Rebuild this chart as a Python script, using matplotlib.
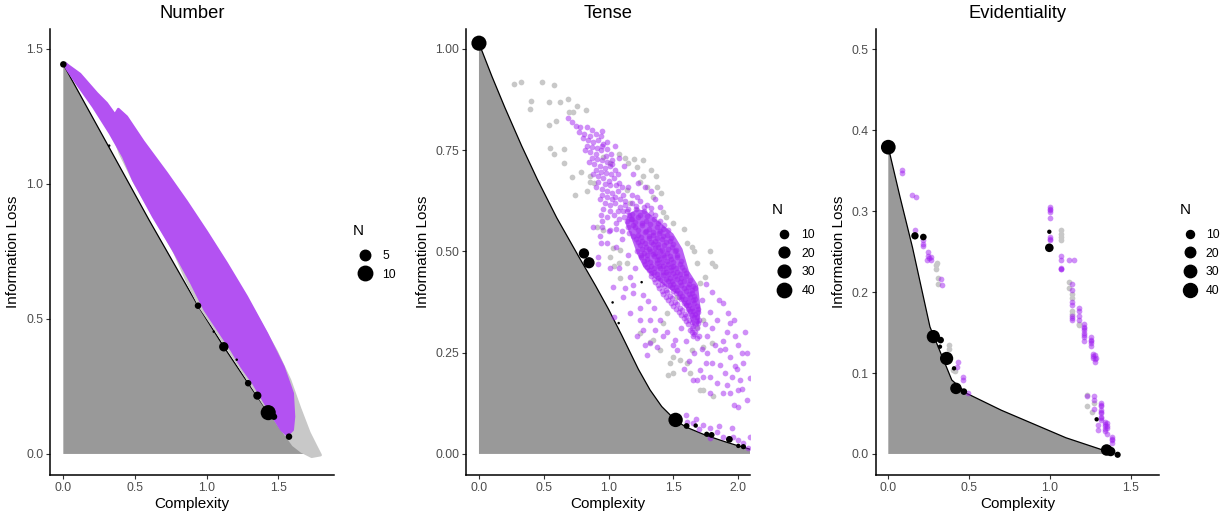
import numpy as np
import matplotlib
matplotlib.use("Agg")
from matplotlib import pyplot as plt
from matplotlib.lines import Line2D
from matplotlib.ticker import FormatStrFormatter

plt.rcParams['font.family'] = ['Liberation Sans', 'DejaVu Sans']

PURPLE = '#A020F0'
GREY_PT = '#C8C8C8'
FILL = '#999999'

# ---------------- Number ----------------
num_front_x = [0.0, 0.32, 0.6, 0.94, 1.12, 1.29, 1.43, 1.575, 1.63]
num_front_y = [1.443, 1.135, 0.865, 0.549, 0.397, 0.262, 0.153, 0.064, 0.033]
num_fill_end = 1.71

# dense cloud of simulated systems, drawn as its outline
num_purple_x = [0.012, 0.116, 0.233, 0.302, 0.360, 0.384, 0.442, 0.558, 0.721, 0.860, 1.0, 1.140,
                1.279, 1.419, 1.535, 1.600, 1.609, 1.600, 1.563,
                1.523, 1.465, 1.395, 1.326, 1.244, 1.174, 1.081, 0.988, 0.895, 0.767, 0.628,
                0.488, 0.419, 0.326, 0.209, 0.093, 0.023]
num_purple_y = [1.447, 1.407, 1.336, 1.299, 1.256, 1.277, 1.249, 1.157, 1.040, 0.935, 0.823, 0.706,
                0.583, 0.447, 0.323, 0.225, 0.138, 0.089, 0.070,
                0.089, 0.138, 0.200, 0.262, 0.323, 0.385, 0.459, 0.533, 0.632, 0.756, 0.879,
                1.015, 1.101, 1.188, 1.286, 1.373, 1.428]
num_grey_x = [0.012, 0.256, 0.360, 0.535, 0.721, 0.953, 1.186, 1.326, 1.488, 1.581, 1.651, 1.716,
              1.767, 1.795, 1.733, 1.663, 1.605,
              1.512, 1.395, 1.267, 1.163, 1.047, 0.953, 0.860, 0.779, 0.651, 0.500, 0.395,
              0.326, 0.209, 0.070]
num_grey_y = [1.449, 1.311, 1.256, 1.165, 1.033, 0.854, 0.657, 0.533, 0.379, 0.274, 0.169, 0.079,
              0.025, -0.004, -0.010, 0.009, 0.033,
              0.101, 0.188, 0.293, 0.379, 0.472, 0.546, 0.644, 0.743, 0.867, 1.002, 1.114,
              1.219, 1.311, 1.404]

num_lang_x = [0.0, 0.32, 0.94, 1.05, 1.12, 1.21, 1.29, 1.354, 1.43, 1.47, 1.575]
num_lang_y = [1.443, 1.142, 0.549, 0.453, 0.397, 0.349, 0.262, 0.216, 0.153, 0.138, 0.064]
num_lang_n = [2, 1, 2, 1, 4, 1, 2, 3, 11, 2, 2]

# ---------------- Tense ----------------
tense_front_x = [0.0, 0.1, 0.2, 0.33, 0.45, 0.6, 0.77, 0.9, 1.0, 1.1, 1.23, 1.32, 1.41, 1.52, 1.6,
                 1.75, 1.9, 2.0, 2.1]
tense_front_y = [1.014, 0.932, 0.855, 0.76, 0.678, 0.583, 0.487, 0.415, 0.357, 0.294, 0.209, 0.158, 0.117,
                 0.082, 0.066, 0.046, 0.030, 0.020, 0.011]

# outline of the saturated core of the cloud
tense_core_x = [1.16, 1.22, 1.28, 1.37, 1.49, 1.56, 1.61, 1.68, 1.70, 1.685, 1.66, 1.61, 1.53, 1.45,
                1.35, 1.28, 1.23, 1.18, 1.14]
tense_core_y = [0.590, 0.600, 0.598, 0.574, 0.542, 0.505, 0.450, 0.415, 0.356, 0.318, 0.318, 0.360,
                0.398, 0.415, 0.440, 0.462, 0.495, 0.540, 0.570]

tense_grey = [
    (0.273, 0.914), (0.324, 0.918), (0.489, 0.919), (0.581, 0.910), (0.401, 0.872), (0.394, 0.852),
    (0.543, 0.869), (0.628, 0.868), (0.687, 0.876), (0.697, 0.845), (0.728, 0.845), (0.826, 0.848),
    (0.754, 0.858), (0.540, 0.811), (0.592, 0.821), (0.548, 0.755), (0.579, 0.741), (0.658, 0.753),
    (0.658, 0.718), (0.715, 0.683), (0.787, 0.695), (0.738, 0.638), (0.831, 0.649), (0.856, 0.672),
    (0.887, 0.668), (1.083, 0.741), (1.127, 0.730), (1.196, 0.728), (1.268, 0.726), (1.152, 0.718),
    (1.217, 0.709), (1.325, 0.701), (1.366, 0.685), (1.268, 0.687), (1.376, 0.660), (1.242, 0.672),
    (1.402, 0.644), (1.422, 0.598), (1.443, 0.586), (1.500, 0.570), (1.582, 0.555), (1.602, 0.520),
    (1.641, 0.512), (1.659, 0.502), (1.680, 0.471), (1.782, 0.500), (1.795, 0.471), (1.821, 0.463),
    (1.744, 0.438), (1.705, 0.421), (1.037, 0.508), (1.088, 0.504), (1.011, 0.487), (1.042, 0.463),
    (1.083, 0.471), (1.088, 0.434), (1.139, 0.471), (1.422, 0.454), (1.474, 0.421), (1.525, 0.388),
    (1.448, 0.347), (1.422, 0.323), (1.319, 0.277), (1.397, 0.257), (1.500, 0.240), (1.551, 0.232),
    (1.602, 0.224), (1.461, 0.195), (1.628, 0.199), (1.705, 0.158), (1.731, 0.158), (1.808, 0.142),
    (1.680, 0.314), (1.731, 0.331), (1.731, 0.265), (1.795, 0.273), (1.641, 0.257), (1.139, 0.652),
    (1.294, 0.660), (1.345, 0.635), (0.908, 0.561), (0.959, 0.553), (1.268, 0.528), (1.319, 0.487),
    (0.959, 0.734), (1.011, 0.718), (0.856, 0.685), (1.165, 0.619), (1.217, 0.602), (1.525, 0.512),
    (1.564, 0.479), (1.242, 0.298), (1.345, 0.282), (1.474, 0.224), (1.500, 0.199),
]

tense_purple = [
    # upper arm
    (0.69, 0.829), (0.75, 0.81), (0.78, 0.808), (0.83, 0.806), (0.87, 0.80), (0.95, 0.798),
    (0.80, 0.78), (0.84, 0.775), (0.88, 0.77), (0.92, 0.775), (0.96, 0.765), (0.99, 0.77),
    (0.82, 0.75), (0.86, 0.745), (0.90, 0.74), (0.94, 0.75), (0.98, 0.735), (1.02, 0.74),
    (0.85, 0.72), (0.89, 0.715), (0.93, 0.71), (0.97, 0.705), (1.01, 0.71), (1.05, 0.70),
    (0.88, 0.69), (0.92, 0.685), (0.96, 0.68), (1.00, 0.675), (1.04, 0.68), (1.08, 0.67),
    (0.90, 0.66), (0.95, 0.655), (0.99, 0.65), (1.03, 0.645), (1.07, 0.65), (1.11, 0.64),
    (0.93, 0.63), (0.97, 0.62), (1.01, 0.615), (1.05, 0.62), (1.09, 0.61), (1.13, 0.615),
    (0.94, 0.59), (0.99, 0.585), (1.04, 0.59), (1.08, 0.58), (1.12, 0.585), (1.16, 0.59),
    (0.95, 0.56), (1.00, 0.55), (1.06, 0.555), (1.10, 0.55), (1.15, 0.56), (1.19, 0.565),
    (0.72, 0.82), (0.77, 0.795), (0.81, 0.79), (0.86, 0.785), (0.90, 0.79), (0.94, 0.785),
    (0.83, 0.76), (0.87, 0.757), (0.91, 0.755), (0.95, 0.76), (0.99, 0.752), (1.03, 0.725),
    (0.87, 0.73), (0.91, 0.728), (0.95, 0.725), (0.99, 0.72), (1.03, 0.715), (1.07, 0.69),
    (0.90, 0.70), (0.94, 0.697), (0.98, 0.693), (1.02, 0.69), (1.06, 0.665), (1.10, 0.66),
    (0.92, 0.672), (0.97, 0.667), (1.01, 0.663), (1.05, 0.635), (1.09, 0.63), (1.13, 0.625),
    (0.95, 0.64), (0.99, 0.635), (1.03, 0.63), (1.07, 0.60), (1.11, 0.60), (1.15, 0.605),
    (0.96, 0.605), (1.01, 0.60), (1.06, 0.57), (1.14, 0.575), (1.18, 0.58),
    (1.36, 0.63), (1.40, 0.61), (1.33, 0.65), (1.28, 0.66), (1.23, 0.67), (1.19, 0.69),
    (1.12, 0.71), (1.08, 0.73), (1.05, 0.76), (1.15, 0.66), (1.18, 0.64), (1.22, 0.635),
    # core
    (1.18, 0.62), (1.24, 0.625), (1.30, 0.615),
    (1.14, 0.60), (1.21, 0.605), (1.27, 0.60), (1.33, 0.595),
    (1.17, 0.58), (1.23, 0.585), (1.29, 0.575), (1.35, 0.58), (1.40, 0.575),
    (1.20, 0.56), (1.26, 0.565), (1.31, 0.555), (1.37, 0.56), (1.42, 0.555),
    (1.16, 0.545), (1.23, 0.54), (1.28, 0.548), (1.34, 0.54), (1.39, 0.545), (1.45, 0.54),
    (1.21, 0.53), (1.26, 0.525), (1.31, 0.532), (1.36, 0.525), (1.41, 0.53), (1.47, 0.525),
    (1.24, 0.515), (1.29, 0.51), (1.34, 0.518), (1.38, 0.51), (1.43, 0.515), (1.49, 0.51),
    (1.22, 0.50), (1.27, 0.495), (1.32, 0.502), (1.36, 0.495), (1.40, 0.50), (1.45, 0.495), (1.51, 0.50),
    (1.25, 0.485), (1.30, 0.48), (1.35, 0.488), (1.39, 0.48), (1.43, 0.485), (1.48, 0.48), (1.53, 0.485),
    (1.28, 0.47), (1.33, 0.465), (1.37, 0.472), (1.42, 0.465), (1.46, 0.47), (1.50, 0.465), (1.55, 0.47),
    (1.31, 0.455), (1.35, 0.45), (1.40, 0.458), (1.44, 0.45), (1.48, 0.455), (1.53, 0.45), (1.58, 0.455),
    (1.33, 0.44), (1.38, 0.435), (1.42, 0.442), (1.47, 0.435), (1.51, 0.44), (1.56, 0.435), (1.60, 0.44),
    (1.36, 0.425), (1.41, 0.42), (1.46, 0.428), (1.50, 0.42), (1.55, 0.425), (1.62, 0.42),
    (1.39, 0.41), (1.44, 0.405), (1.49, 0.412), (1.53, 0.405), (1.58, 0.41), (1.64, 0.405),
    (1.42, 0.395), (1.47, 0.39), (1.52, 0.398), (1.57, 0.39), (1.62, 0.395), (1.66, 0.39),
    (1.46, 0.38), (1.51, 0.375), (1.56, 0.382), (1.61, 0.375), (1.65, 0.38),
    (1.50, 0.365), (1.55, 0.36), (1.60, 0.368), (1.64, 0.36), (1.68, 0.365),
    (1.54, 0.35), (1.59, 0.345), (1.63, 0.352), (1.67, 0.345),
    (1.58, 0.335), (1.62, 0.33), (1.66, 0.338), (1.70, 0.33),
    (1.61, 0.32), (1.65, 0.315), (1.69, 0.322),
    (1.63, 0.305), (1.67, 0.30), (1.65, 0.29), (1.68, 0.285),
    (1.21, 0.612), (1.27, 0.61), (1.33, 0.608),
    (1.18, 0.592), (1.24, 0.59), (1.30, 0.588), (1.36, 0.59),
    (1.20, 0.572), (1.26, 0.57), (1.32, 0.568), (1.38, 0.57), (1.43, 0.565),
    (1.23, 0.552), (1.29, 0.55), (1.34, 0.548), (1.40, 0.55), (1.46, 0.552),
    (1.19, 0.538), (1.25, 0.535), (1.31, 0.538), (1.37, 0.532), (1.42, 0.537), (1.48, 0.533),
    (1.23, 0.522), (1.28, 0.52), (1.33, 0.523), (1.38, 0.518), (1.44, 0.522), (1.50, 0.518),
    (1.26, 0.507), (1.31, 0.505), (1.36, 0.508), (1.41, 0.503), (1.46, 0.507), (1.52, 0.503),
    (1.25, 0.492), (1.30, 0.49), (1.34, 0.493), (1.38, 0.488), (1.42, 0.492), (1.47, 0.488), (1.53, 0.49),
    (1.27, 0.477), (1.32, 0.475), (1.37, 0.478), (1.41, 0.473), (1.45, 0.477), (1.50, 0.473), (1.56, 0.477),
    (1.30, 0.462), (1.35, 0.46), (1.39, 0.463), (1.44, 0.458), (1.48, 0.462), (1.52, 0.458), (1.57, 0.462),
    (1.33, 0.447), (1.37, 0.445), (1.42, 0.448), (1.46, 0.443), (1.50, 0.447), (1.55, 0.443), (1.60, 0.447),
    (1.35, 0.432), (1.40, 0.43), (1.44, 0.433), (1.49, 0.428), (1.53, 0.432), (1.58, 0.428), (1.63, 0.43),
    (1.38, 0.417), (1.43, 0.415), (1.47, 0.418), (1.52, 0.413), (1.56, 0.417), (1.61, 0.413), (1.65, 0.415),
    (1.41, 0.402), (1.45, 0.40), (1.50, 0.403), (1.55, 0.398), (1.60, 0.402), (1.64, 0.398),
    (1.44, 0.387), (1.49, 0.385), (1.54, 0.388), (1.59, 0.383), (1.63, 0.387), (1.67, 0.383),
    (1.48, 0.372), (1.53, 0.37), (1.58, 0.373), (1.62, 0.368), (1.66, 0.372),
    (1.52, 0.357), (1.57, 0.355), (1.61, 0.358), (1.65, 0.353), (1.69, 0.357),
    (1.56, 0.342), (1.60, 0.34), (1.64, 0.343), (1.68, 0.338),
    (1.60, 0.327), (1.64, 0.325), (1.68, 0.328),
    (1.64, 0.312), (1.68, 0.31), (1.66, 0.297),
    # scattered left and middle
    (0.92, 0.47), (0.94, 0.52), (0.985, 0.52), (0.95, 0.574), (1.011, 0.553), (1.06, 0.512),
    (1.10, 0.53), (1.011, 0.458), (1.042, 0.339), (1.114, 0.388), (1.165, 0.347), (1.186, 0.397),
    (1.242, 0.331), (1.268, 0.306), (1.319, 0.331), (1.319, 0.273), (1.358, 0.306), (1.165, 0.438),
    (1.191, 0.417), (1.268, 0.393), (1.306, 0.377), (1.242, 0.36), (1.20, 0.46), (1.15, 0.49),
    (1.08, 0.46), (1.13, 0.41), (1.22, 0.29), (1.28, 0.27), (1.35, 0.36), (1.40, 0.33),
    (1.30, 0.245), (1.45, 0.30), (1.50, 0.269), (1.525, 0.257), (1.512, 0.281), (1.42, 0.29),
    (1.37, 0.265), (0.877, 0.561), (0.934, 0.537), (1.037, 0.413), (0.92, 0.487),
    # lower right arm
    (1.68, 0.183), (1.654, 0.183), (1.705, 0.207), (1.75, 0.224), (1.795, 0.224), (1.86, 0.257),
    (1.885, 0.28), (1.91, 0.30), (1.937, 0.323), (1.885, 0.372), (1.924, 0.347), (1.975, 0.29),
    (2.0, 0.27), (2.027, 0.249), (2.04, 0.224), (1.975, 0.216), (2.014, 0.183), (2.001, 0.158),
    (1.937, 0.150), (1.885, 0.150), (1.834, 0.174), (1.782, 0.191), (2.065, 0.133), (2.001, 0.117),
    (2.091, 0.187), (1.782, 0.150), (1.731, 0.191), (1.72, 0.26), (1.76, 0.29), (1.80, 0.31),
    (1.84, 0.33), (1.78, 0.35), (1.74, 0.32), (1.70, 0.29), (1.66, 0.25), (1.62, 0.23),
    (1.58, 0.21), (1.60, 0.28), (1.56, 0.31), (1.82, 0.27), (1.86, 0.22), (1.90, 0.20),
    (1.95, 0.19), (1.85, 0.38), (1.80, 0.40), (1.90, 0.26), (1.97, 0.33), (2.05, 0.30),
    (2.07, 0.25), (1.94, 0.24), (1.99, 0.21), (2.03, 0.16), (1.97, 0.12), (1.91, 0.17),
    (1.76, 0.25), (1.64, 0.30), (1.69, 0.35), (1.72, 0.38), (1.67, 0.41), (1.75, 0.42),
    # near the frontier
    (1.602, 0.080), (1.654, 0.076), (1.672, 0.086), (1.731, 0.072), (1.782, 0.063), (1.834, 0.055),
    (1.885, 0.041), (1.95, 0.063), (1.962, 0.041), (2.001, 0.035), (2.04, 0.026), (2.078, 0.014),
    (2.091, 0.043), (1.782, 0.039), (1.70, 0.062), (1.60, 0.095), (1.85, 0.07),
]

tense_lang_x = [0.0, 0.81, 0.849, 1.255, 1.031, 1.078, 1.517, 1.602, 1.672, 1.757, 1.795, 1.932, 2.001, 2.04]
tense_lang_y = [1.014, 0.495, 0.472, 0.424, 0.374, 0.323, 0.084, 0.069, 0.070, 0.0486, 0.047, 0.036, 0.0198, 0.018]
tense_lang_n = [45, 18, 22, 1, 1, 1, 40, 4, 2, 3, 4, 6, 2, 3]

# ---------------- Evidentiality ----------------
evid_front_x = [0.0, 0.072, 0.15, 0.258, 0.393, 0.485, 0.7, 0.9, 1.1, 1.311, 1.355]
evid_front_y = [0.379, 0.318, 0.255, 0.157, 0.0914, 0.0749, 0.054, 0.037, 0.020, 0.006, 0.003]

evid_purple = [
    (0.083, 0.351), (0.083, 0.347), (0.144, 0.320), (0.171, 0.318), (0.163, 0.277), (0.217, 0.264),
    (0.217, 0.260), (0.217, 0.257), (0.244, 0.250), (0.244, 0.244), (0.254, 0.242), (0.264, 0.243),
    (0.241, 0.239), (0.264, 0.240), (0.324, 0.2156), (0.330, 0.209), (0.433, 0.113), (0.423, 0.108),
    (0.460, 0.0955), (0.460, 0.0914), (0.491, 0.075),
    (1.0, 0.305), (1.0, 0.301), (1.0, 0.299), (1.0, 0.292), (1.0, 0.268), (1.0, 0.264),
    (1.069, 0.2444), (1.069, 0.2395), (1.069, 0.230), (1.069, 0.228), (1.121, 0.240), (1.152, 0.2395),
    (1.139, 0.210), (1.139, 0.202), (1.139, 0.188), (1.139, 0.184), (1.139, 0.170), (1.139, 0.165),
    (1.18, 0.18), (1.18, 0.176), (1.18, 0.17), (1.18, 0.165), (1.212, 0.161), (1.212, 0.157),
    (1.212, 0.153), (1.212, 0.149), (1.212, 0.145), (1.212, 0.139), (1.253, 0.145), (1.253, 0.141),
    (1.253, 0.137), (1.253, 0.133), (1.265, 0.124), (1.265, 0.118), (1.279, 0.122), (1.279, 0.114),
    (1.285, 0.118), (1.228, 0.071), (1.273, 0.071), (1.273, 0.067), (1.317, 0.063), (1.317, 0.059),
    (1.317, 0.054), (1.317, 0.050), (1.317, 0.046), (1.317, 0.042), (1.273, 0.056), (1.30, 0.036),
    (1.30, 0.030), (1.34, 0.040), (1.34, 0.034), (1.34, 0.028), (1.356, 0.038), (1.356, 0.032),
    (1.356, 0.025), (1.387, 0.021), (1.387, 0.017), (1.387, 0.014),
    # repeated systems stacking on the same spot
    (1.069, 0.229), (1.139, 0.168), (1.212, 0.155), (1.212, 0.147), (1.253, 0.139), (1.267, 0.121),
    (1.281, 0.117), (1.317, 0.061), (1.317, 0.052), (1.317, 0.044), (1.342, 0.037), (1.342, 0.031),
    (1.356, 0.035), (1.387, 0.019), (1.0, 0.303), (1.0, 0.266),
]
evid_grey = [
    (0.295, 0.233), (0.295, 0.229), (0.299, 0.236), (0.31, 0.217), (0.31, 0.210), (0.378, 0.135),
    (0.378, 0.130), (0.402, 0.104), (0.412, 0.102), (1.071, 0.2765), (1.071, 0.272), (1.071, 0.268),
    (1.071, 0.264), (1.121, 0.213), (1.121, 0.205), (1.139, 0.197), (1.139, 0.193), (1.139, 0.177),
    (1.139, 0.173), (1.18, 0.161), (1.18, 0.159), (1.228, 0.073), (1.228, 0.059), (1.275, 0.063),
    (1.259, 0.052),
]

evid_lang_x = [0.0, 0.165, 0.217, 0.997, 0.997, 0.279, 0.324, 0.32, 0.361, 0.407, 0.419, 0.468,
               1.352, 1.377, 1.42, 1.29]
evid_lang_y = [0.379, 0.2695, 0.268, 0.2745, 0.2547, 0.145, 0.1407, 0.1325, 0.118, 0.1058, 0.081, 0.077,
               0.0049, 0.003, -0.001, 0.0428]
evid_lang_n = [45, 8, 6, 2, 12, 35, 6, 2, 35, 2, 25, 6, 25, 15, 5, 2]

W, H = 1222, 512
fig = plt.figure(figsize=(W / 100, H / 100), dpi=100)


def size_px(n, nmin, nmax):
    n = np.asarray(n, dtype=float)
    return 2.52 * (1 + 5 * np.sqrt((n - nmin) / (nmax - nmin)))


def setup(ax, title, xlim, ylim, xticks, yticks, yfmt):
    ax.set_xlim(*xlim)
    ax.set_ylim(*ylim)
    ax.set_xticks(xticks)
    ax.set_yticks(yticks)
    ax.xaxis.set_major_formatter(FormatStrFormatter('%.1f'))
    ax.yaxis.set_major_formatter(FormatStrFormatter(yfmt))
    for s in ['top', 'right']:
        ax.spines[s].set_visible(False)
    for s in ['left', 'bottom']:
        ax.spines[s].set_linewidth(1.1)
    ax.tick_params(length=2.75, width=0.8, color='#333333', labelcolor='#4D4D4D', labelsize=8.8, pad=2.2)
    ax.set_title(title, fontsize=13.2, pad=7.7)
    ax.set_xlabel('Complexity', fontsize=11, labelpad=2.5)
    ax.set_ylabel('Information Loss', fontsize=11, labelpad=4)


def frontier(ax, fx, fy, fill_x=None):
    px = list(fx) + ([fill_x] if fill_x else []) + [fx[-1] if not fill_x else fill_x, 0.0]
    py = list(fy) + ([0.0] if fill_x else []) + [0.0, 0.0]
    ax.fill(px, py, color=FILL, lw=0, zorder=1)
    ax.plot(fx, fy, color='black', lw=0.9, zorder=2)


def langs(ax, x, y, n, nmin, nmax):
    ax.scatter(x, y, s=(size_px(n, nmin, nmax) * 0.72) ** 2, c='black', lw=0, zorder=6)


def size_legend(ax, vals, nmin, nmax, left, top, hl=1.9):
    handles = [Line2D([], [], ls='', marker='o', color='black',
                      markersize=float(size_px(v, nmin, nmax)) * 0.72) for v in vals]
    leg = ax.legend(handles, [str(v) for v in vals], title='N', loc='upper left',
                    bbox_to_anchor=(left / W, 1 - top / H), bbox_transform=fig.transFigure,
                    frameon=False, fontsize=8.8, title_fontsize=11, alignment='left',
                    handletextpad=0.5, labelspacing=0.55, borderaxespad=0, borderpad=0,
                    handlelength=hl)
    leg._legend_box.sep = 8.5
    return leg


# panel positions in pixels: left, right
top_px, bot_px = 29, 475
pos = [(50, 334), (466, 750), (875.7, 1159.3)]
axes = [fig.add_axes([l / W, (H - bot_px) / H, (r - l) / W, (bot_px - top_px) / H]) for l, r in pos]

# Number
ax = axes[0]
frontier(ax, num_front_x, num_front_y, fill_x=num_fill_end)
ax.fill(num_grey_x, num_grey_y, facecolor=GREY_PT, edgecolor=GREY_PT, lw=2, joinstyle='round', zorder=3)
ax.fill(num_purple_x, num_purple_y, facecolor='#B352F2', edgecolor='#B352F2', lw=2, joinstyle='round', zorder=4)
langs(ax, num_lang_x, num_lang_y, num_lang_n, 1, 11)
setup(ax, 'Number', (-0.093, 1.889), (-0.078, 1.574), [0, 0.5, 1.0, 1.5], [0, 0.5, 1.0, 1.5], '%.1f')
size_legend(ax, [5, 10], 1, 11, 353, 224)

# Tense
ax = axes[1]
frontier(ax, tense_front_x, tense_front_y)
gx, gy = zip(*tense_grey)
ax.scatter(gx, gy, s=17, c=GREY_PT, lw=0, zorder=3)
ax.fill(tense_core_x, tense_core_y, facecolor='#BA62F4', edgecolor='#BA62F4', lw=2, joinstyle='round', zorder=3.5)
px_, py_ = zip(*tense_purple)
ax.scatter(px_, py_, s=17, c=PURPLE, alpha=0.5, lw=0, zorder=4)
langs(ax, tense_lang_x, tense_lang_y, tense_lang_n, 1, 45)
setup(ax, 'Tense', (-0.1, 2.091), (-0.052, 1.049), [0, 0.5, 1.0, 1.5, 2.0],
      [0, 0.25, 0.5, 0.75, 1.0], '%.2f')
size_legend(ax, [10, 20, 30, 40], 1, 45, 772, 203)

# Evidentiality
ax = axes[2]
frontier(ax, evid_front_x, evid_front_y)
gx, gy = zip(*evid_grey)
ax.scatter(gx, gy, s=17, c=GREY_PT, lw=0, zorder=3)
px_, py_ = zip(*evid_purple)
ax.scatter(px_, py_, s=17, c=PURPLE, alpha=0.5, lw=0, zorder=4)
langs(ax, evid_lang_x, evid_lang_y, evid_lang_n, 1, 48)
setup(ax, 'Evidentiality', (-0.078, 1.678), (-0.026, 0.525), [0, 0.5, 1.0, 1.5],
      [0, 0.1, 0.2, 0.3, 0.4, 0.5], '%.1f')
size_legend(ax, [10, 20, 30, 40], 1, 48, 1180, 203, hl=1.6)

fig.savefig('out.png', dpi=100)
